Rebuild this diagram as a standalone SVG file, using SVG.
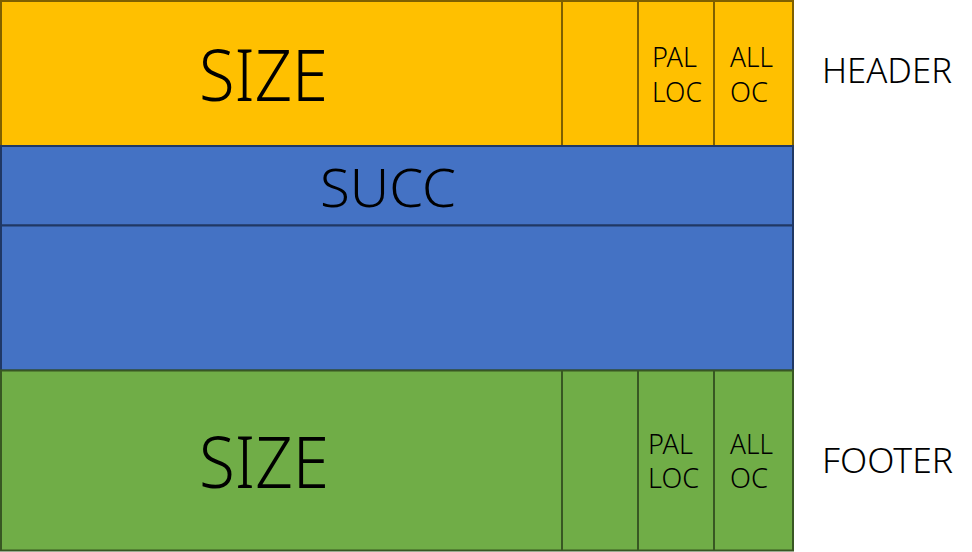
<svg xmlns="http://www.w3.org/2000/svg" width="972" height="552" viewBox="0 0 972 552">
<style>
text{font-family:"Noto Sans","Liberation Sans",sans-serif;font-weight:300;fill:#000;}
.hdr{fill:#FFC000;stroke:#7F6000;stroke-width:2;}
.blu{fill:#4472C4;stroke:#203864;stroke-width:2;}
.grn{fill:#70AD47;stroke:#385723;stroke-width:2;}
.big{font-size:72px;}
.mid{font-size:54px;}
.sm{font-size:27px;}
.lbl{font-size:34px;}
</style>
<rect width="972" height="552" fill="#fff"/>
<g id="header">
<rect class="hdr" x="1" y="1" width="792" height="145"/>
<line class="hdr" x1="562" y1="1" x2="562" y2="146"/>
<line class="hdr" x1="638" y1="1" x2="638" y2="146"/>
<line class="hdr" x1="714" y1="1" x2="714" y2="146"/>
<text class="big" x="199" y="101" textLength="129" lengthAdjust="spacingAndGlyphs">SIZE</text>
<text class="sm" x="652" y="67" textLength="45" lengthAdjust="spacingAndGlyphs">PAL</text>
<text class="sm" x="652" y="102" textLength="50" lengthAdjust="spacingAndGlyphs">LOC</text>
<text class="sm" x="730" y="67" textLength="43" lengthAdjust="spacingAndGlyphs">ALL</text>
<text class="sm" x="730" y="102" textLength="38" lengthAdjust="spacingAndGlyphs">OC</text>
</g>
<g id="succ">
<rect class="blu" x="1" y="146" width="792" height="79.5"/>
<text class="mid" x="320" y="207" textLength="136" lengthAdjust="spacingAndGlyphs">SUCC</text>
</g>
<g id="body">
<rect class="blu" x="1" y="225.5" width="792" height="145"/>
</g>
<g id="footer">
<rect class="grn" x="1" y="370.5" width="792" height="180"/>
<line class="grn" x1="562" y1="370.5" x2="562" y2="550.5"/>
<line class="grn" x1="638" y1="370.5" x2="638" y2="550.5"/>
<line class="grn" x1="714" y1="370.5" x2="714" y2="550.5"/>
<text class="big" x="199" y="488" textLength="130" lengthAdjust="spacingAndGlyphs">SIZE</text>
<text class="sm" x="648" y="454" textLength="45" lengthAdjust="spacingAndGlyphs">PAL</text>
<text class="sm" x="648" y="488" textLength="51" lengthAdjust="spacingAndGlyphs">LOC</text>
<text class="sm" x="730" y="454" textLength="43" lengthAdjust="spacingAndGlyphs">ALL</text>
<text class="sm" x="730" y="488" textLength="38" lengthAdjust="spacingAndGlyphs">OC</text>
</g>
<g id="labels">
<text class="lbl" x="822" y="83" textLength="130" lengthAdjust="spacingAndGlyphs">HEADER</text>
<text class="lbl" x="822" y="473" textLength="131" lengthAdjust="spacingAndGlyphs">FOOTER</text>
</g>
<g id="connectors"></g>
</svg>
